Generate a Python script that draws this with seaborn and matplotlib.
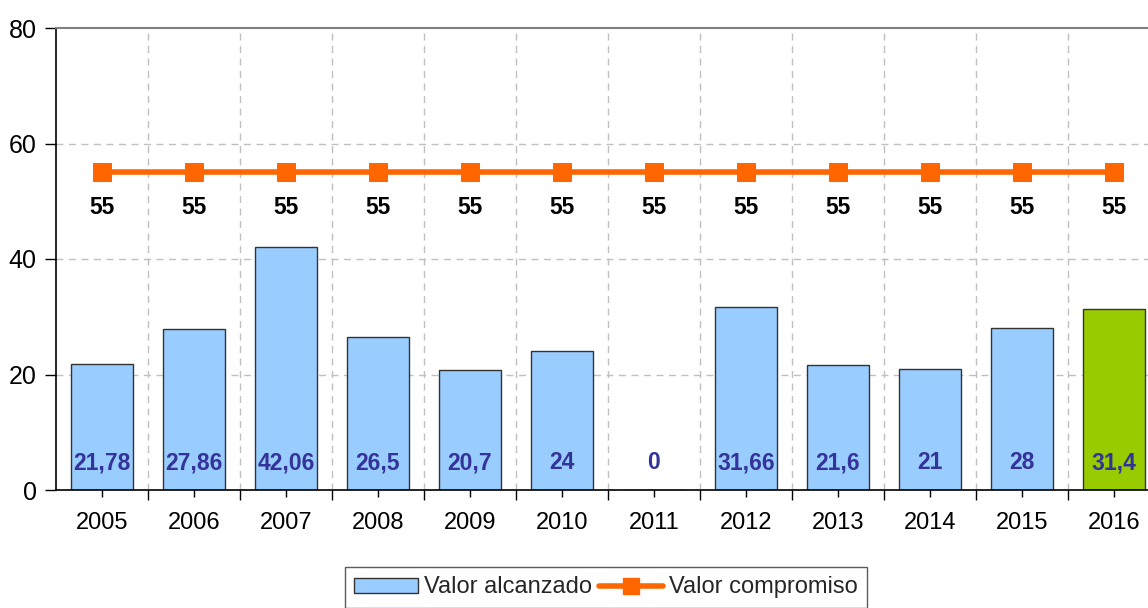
import numpy as np
import pandas as pd
import matplotlib
matplotlib.use("Agg")
import matplotlib.pyplot as plt
import seaborn as sns
from matplotlib.patches import Patch
from matplotlib.lines import Line2D

# --- Data ---
years = ["2005", "2006", "2007", "2008", "2009", "2010",
         "2011", "2012", "2013", "2014", "2015", "2016"]
alcanzado = [21.78, 27.86, 42.06, 26.5, 20.7, 24, 0, 31.66, 21.6, 21, 28, 31.4]
alcanzado_labels = ["21,78", "27,86", "42,06", "26,5", "20,7", "24",
                    "0", "31,66", "21,6", "21", "28", "31,4"]
compromiso = [55] * 12

bar_blue = "#99CCFF"
bar_green = "#99CC00"
orange = "#FF6600"
label_blue = "#333399"

sns.set_style("white")
plt.rcParams["font.family"] = ["Liberation Sans", "DejaVu Sans"]

fig = plt.figure(figsize=(11.48, 6.08), dpi=100)
ax = fig.add_axes([56 / 1148, 1 - 490 / 608, (1160 - 56) / 1148, (490 - 28) / 608])

df = pd.DataFrame({"year": years, "valor": alcanzado})
colors = [bar_blue] * (len(years) - 1) + [bar_green]
sns.barplot(data=df, x="year", y="valor", hue="year", palette=colors,
            saturation=1, width=0.67, edgecolor="#333333", linewidth=1.0,
            legend=False, ax=ax, zorder=2)

sns.lineplot(x=np.arange(len(years)), y=compromiso, color=orange, linewidth=4,
             marker="s", markersize=13, markeredgecolor=orange, ax=ax, zorder=4)

# data labels
for i, (lab, v) in enumerate(zip(alcanzado_labels, compromiso)):
    ax.text(i, 4.7, lab, ha="center", va="center", fontsize=16.5,
            fontweight="bold", color=label_blue, zorder=5)
    ax.text(i, 49.0, str(v), ha="center", va="center", fontsize=16.5,
            fontweight="bold", color="black", zorder=5)

ax.set_xlim(-0.5, len(years) - 0.5)
ax.set_ylim(0, 80)
ax.set_yticks([0, 20, 40, 60, 80])
ax.set_xlabel("")
ax.set_ylabel("")

# grid: horizontal dashed + vertical dashed at category boundaries
for y in [20, 40, 60]:
    ax.axhline(y, color="#C0C0C0", linestyle=(0, (5, 4)), linewidth=1, zorder=0)
for b in np.arange(0.5, len(years) - 0.5, 1):
    ax.axvline(b, color="#C0C0C0", linestyle=(0, (5, 4)), linewidth=1, zorder=0)

ax.set_xticks(np.arange(0.5, len(years) - 0.5, 1), minor=True)
ax.tick_params(axis="x", which="major", direction="out", length=5, width=1,
               colors="black", labelsize=17, pad=11, bottom=True)
ax.tick_params(axis="x", which="minor", direction="out", length=7, width=1,
               colors="black", bottom=True)
ax.tick_params(axis="y", direction="out", length=8, width=1, colors="black",
               labelsize=18, pad=6, left=True)

for side in ["left", "bottom"]:
    ax.spines[side].set_color("black")
    ax.spines[side].set_linewidth(1.2)
ax.spines["top"].set_color("#808080")
ax.spines["top"].set_linewidth(1.5)
ax.spines["right"].set_visible(False)

handles = [
    Patch(facecolor=bar_blue, edgecolor="#333333", linewidth=1),
    Line2D([0], [0], color=orange, linewidth=4, marker="s", markersize=11),
]
fig.legend(handles, ["Valor alcanzado", "Valor compromiso"],
           loc="upper center", bbox_to_anchor=(606 / 1148, 1 - 567 / 608),
           borderaxespad=0, ncol=2, fontsize=17, frameon=True, fancybox=False,
           edgecolor="#333333", handlelength=2.7, handleheight=0.6,
           columnspacing=0.3, handletextpad=0.25, borderpad=0.4)

fig.savefig("out.png", dpi=100)
